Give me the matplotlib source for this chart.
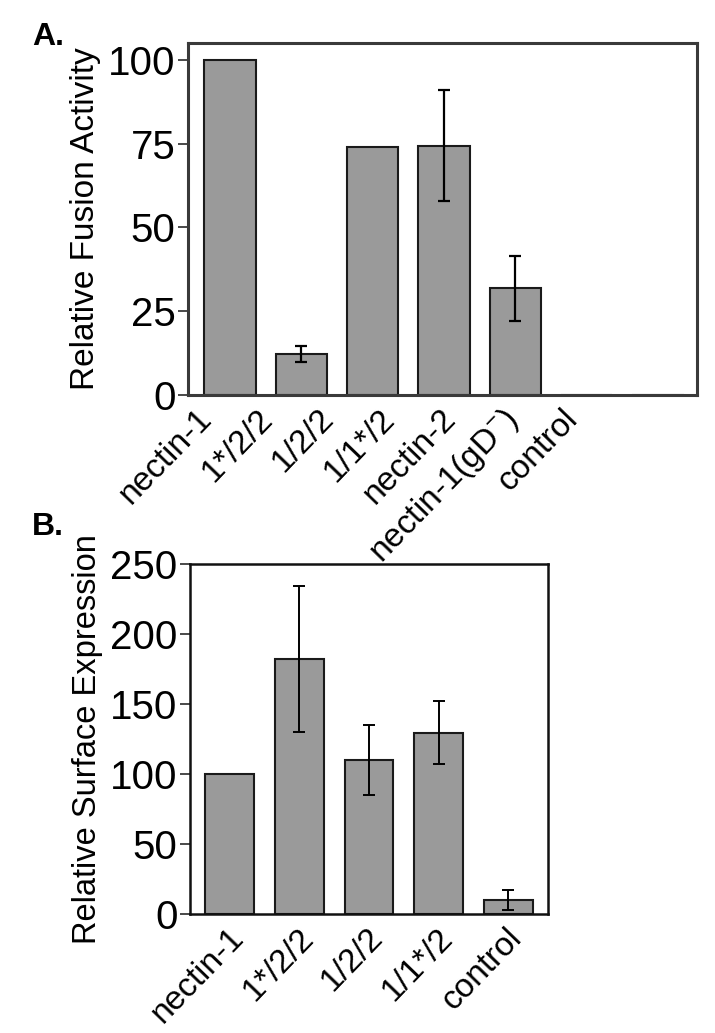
import matplotlib

matplotlib.use("Agg")
import matplotlib.pyplot as plt
import numpy as np

plt.rcParams["font.family"] = ["Liberation Sans", "DejaVu Sans"]
plt.rcParams["mathtext.fontset"] = "custom"
plt.rcParams["mathtext.rm"] = "Liberation Sans"
plt.rcParams["mathtext.it"] = "Liberation Sans:italic"

# panel A: relative fusion activity
fusion_labels = ["nectin-1", "1*/2/2", "1/2/2", "1/1*/2", "nectin-2",
                 "nectin-1(gD$^{-}$)", "control"]
fusion_vals = [100, 12.2, 74.0, 74.4, 31.8, 0, 0]
fusion_err = [0, 2.5, 0, 16.5, 9.8, 0, 0]

# panel B: relative surface expression
surface_labels = ["nectin-1", "1*/2/2", "1/2/2", "1/1*/2", "control"]
surface_vals = [100, 182, 110, 129.5, 9.8]
surface_err = [0, 52, 25, 22.6, 7]

BAR = "#9a9a9a"
FRAME = "#3a3a3a"


def style(ax, frame_lw, frame_color):
    for s in ax.spines.values():
        s.set_linewidth(frame_lw)
        s.set_color(frame_color)
    ax.tick_params(axis="y", labelsize=29, length=7, width=1.3, pad=2, color=FRAME)
    ax.tick_params(axis="x", length=0, pad=6)


def main():
    fig = plt.figure(figsize=(7.15, 10.33), dpi=100)

    # ---- A ----
    ax = fig.add_axes([0.263, 0.6176, 0.712, 0.3408])
    x = np.arange(len(fusion_vals))
    err = [e if e > 0 else np.nan for e in fusion_err]
    ax.bar(x, fusion_vals, width=0.72, color=BAR, edgecolor="#1a1a1a", lw=1.5, zorder=2)
    ax.errorbar(x, fusion_vals, yerr=err, fmt="none", ecolor="black", elinewidth=1.6,
                capsize=4.5, capthick=1.6, zorder=3)
    ax.set_xlim(-0.59, 6.55)
    ax.set_ylim(0, 105)
    ax.set_yticks([0, 25, 50, 75, 100])
    # label anchors drift left of the bars in the original figure
    ax.set_xticks(-0.48 + 0.856 * x)
    ax.set_xticklabels(fusion_labels, fontsize=24, rotation=46, ha="right", va="top",
                       rotation_mode="anchor")
    ax.set_ylabel("Relative Fusion Activity", fontsize=24, labelpad=5)
    style(ax, 2.2, FRAME)

    # ---- B ----
    bx = fig.add_axes([0.2657, 0.1152, 0.5007, 0.3388])
    xb = np.arange(len(surface_vals))
    errb = [e if e > 0 else np.nan for e in surface_err]
    bx.bar(xb, surface_vals, width=0.7, color=BAR, edgecolor="#1a1a1a", lw=1.5, zorder=2)
    bx.errorbar(xb, surface_vals, yerr=errb, fmt="none", ecolor="black", elinewidth=1.4,
                capsize=4.5, capthick=1.4, zorder=3)
    bx.set_xlim(-0.57, 4.57)
    bx.set_ylim(0, 250)
    bx.set_yticks([0, 50, 100, 150, 200, 250])
    bx.set_xticks(xb - 0.03)
    bx.set_xticklabels(surface_labels, fontsize=24, rotation=46, ha="right", va="top",
                       rotation_mode="anchor")
    bx.set_ylabel("Relative Surface Expression", fontsize=23.5, labelpad=5)
    style(bx, 1.8, "#111111")

    fig.text(0.045, 0.979, "A.", fontsize=23, fontweight="bold", va="top", ha="left")
    fig.text(0.045, 1 - 512 / 1033, "B.", fontsize=23, fontweight="bold", va="top", ha="left")

    fig.savefig("out.png", dpi=100)


if __name__ == "__main__":
    main()
